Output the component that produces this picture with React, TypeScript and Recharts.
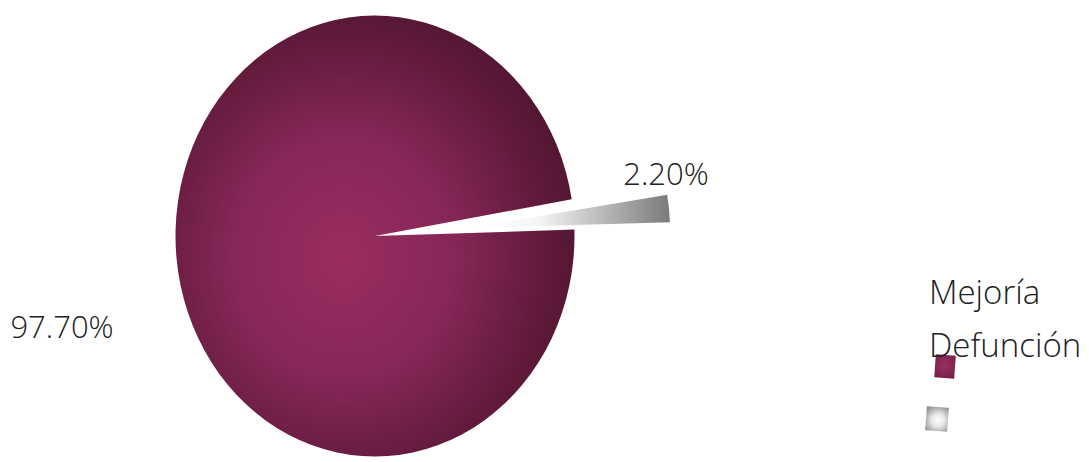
import { PieChart, Pie, Cell, Legend } from "recharts";

const categories = ["Mejoría", "Defunción"];
const percents = [97.7, 2.2];
const percentLabels = ["97.70%", "2.20%"];

const data = categories.map((name, i) => ({ name, value: percents[i], label: percentLabels[i] }));

const FONT = "'Open Sans', 'Lato', sans-serif";
const CX = 375;
const CY = 236;

function MainLabel(props: any) {
  const { cx, cy, outerRadius, index } = props;
  if (index !== 0) return null;
  return (
    <text x={cx - outerRadius - 103} y={cy + 102} textAnchor="middle" fill="#222" fontSize={31} fontWeight={300} fontFamily={FONT}>
      {percentLabels[0]}
    </text>
  );
}

function SliceLabel(props: any) {
  const { cx, cy, outerRadius, index } = props;
  if (index !== 1) return null;
  return (
    <text x={cx + outerRadius - 4} y={cy - 43} textAnchor="middle" fill="#222" fontSize={31} fontWeight={300} fontFamily={FONT}>
      {percentLabels[1]}
    </text>
  );
}

function LegendBox() {
  return (
    <div style={{ position: "relative", width: 164, height: 170, fontFamily: FONT }}>
      {categories.map((c, i) => (
        <div key={c} style={{ position: "absolute", left: 4, top: i * 53, fontSize: 33, fontWeight: 300, color: "#222", lineHeight: "36px", zIndex: 1, whiteSpace: "nowrap" }}>
          {c}
        </div>
      ))}
      <div style={{ position: "absolute", left: 10, top: 81, width: 20, height: 23, background: "radial-gradient(circle at 50% 45%, #9b2f62 0%, #6e1f46 100%)", transform: "rotate(4deg)" }} />
      <div style={{ position: "absolute", left: 1, top: 133, width: 22, height: 24, background: "radial-gradient(circle at 55% 55%, #ffffff 0%, #e8e8e8 35%, #7c7c7c 100%)", transform: "rotate(4deg)" }} />
    </div>
  );
}

export default function App() {
  return (
    <div style={{ position: "absolute", left: 0, top: 0, width: 1089, height: 462, background: "#fff" }}>
      <PieChart width={1089} height={462} margin={{ top: 0, right: 0, bottom: 0, left: 0 }}>
        <defs>
          <radialGradient id="gMain" cx="0.42" cy="0.55" r="0.62">
            <stop offset="0%" stopColor="#9a2d60" />
            <stop offset="45%" stopColor="#852757" />
            <stop offset="80%" stopColor="#621a3c" />
            <stop offset="100%" stopColor="#4e1630" />
          </radialGradient>
          <linearGradient id="gSlice" x1="0" y1="0" x2="1" y2="0">
            <stop offset="0%" stopColor="#ffffff" />
            <stop offset="35%" stopColor="#f4f4f4" />
            <stop offset="100%" stopColor="#7a7a7a" />
          </linearGradient>
        </defs>
        <Pie
          data={data}
          dataKey="value"
          nameKey="name"
          cx={CX}
          cy={CY}
          outerRadius={210}
          startAngle={9.6}
          endAngle={369.6}
          stroke="none"
          labelLine={false}
          label={MainLabel}
          isAnimationActive={false}
        >
          <Cell fill="url(#gMain)" style={{ transform: "scale(0.95, 1.05)", transformOrigin: `${CX}px ${CY}px` }} />
          <Cell fill="none" />
        </Pie>
        <Pie
          data={data}
          dataKey="value"
          nameKey="name"
          cx={470}
          cy={228}
          outerRadius={200}
          startAngle={9.6}
          endAngle={369.6}
          stroke="none"
          labelLine={false}
          label={SliceLabel}
          isAnimationActive={false}
        >
          <Cell fill="none" />
          <Cell fill="url(#gSlice)" />
        </Pie>
        <Legend
          content={() => <LegendBox />}
          layout="vertical"
          verticalAlign="top"
          align="right"
          wrapperStyle={{ left: 925, top: 274, width: 164 }}
        />
      </PieChart>
    </div>
  );
}
